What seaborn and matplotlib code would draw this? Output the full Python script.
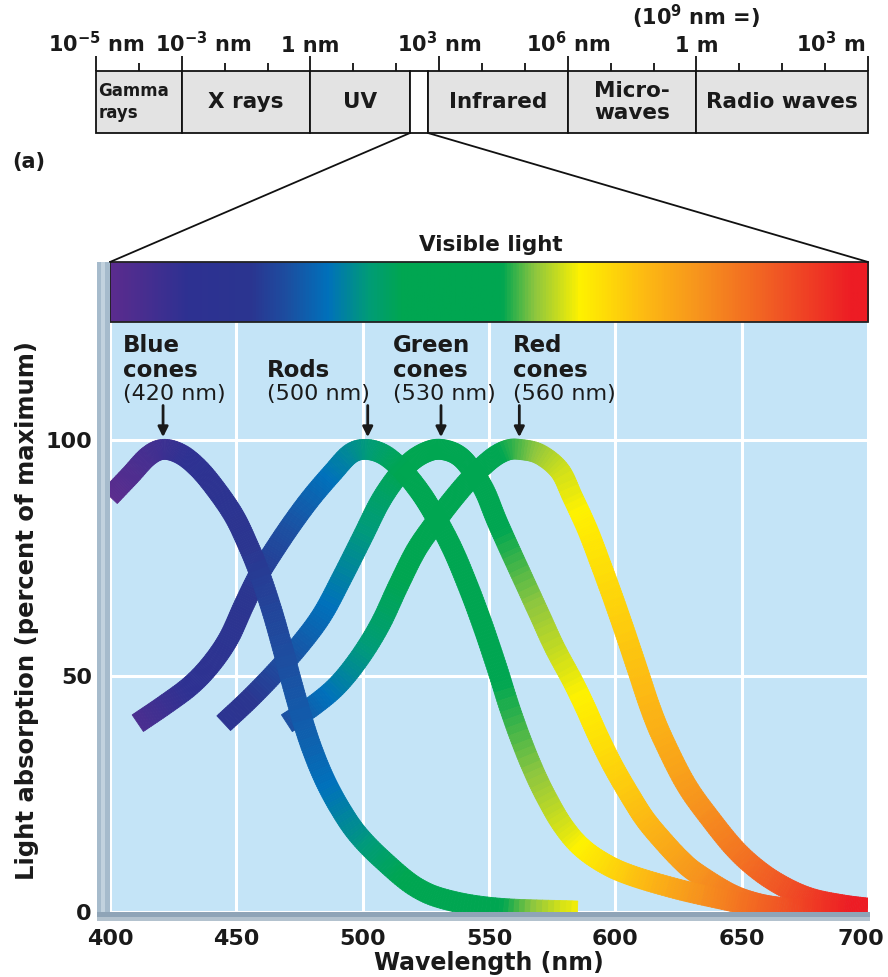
import numpy as np
import matplotlib
matplotlib.use('Agg')
import matplotlib.pyplot as plt
import matplotlib.transforms as mtransforms
import seaborn as sns
from matplotlib.collections import PolyCollection
from matplotlib.colors import LinearSegmentedColormap, Normalize
from matplotlib.patches import Rectangle
from matplotlib.lines import Line2D

# visible spectrum colour stops
spec_nm = [400, 430, 455, 470, 486, 502, 515, 555, 568, 586, 612, 633, 663, 694, 700]
spec_col = ['#5b2c8e', '#2e3192', '#2b3590', '#1c4fa1', '#0071bb', '#009c77', '#00a651',
            '#00a651', '#8dc63f', '#fff200', '#fdb913', '#f7941d', '#f15a24', '#ed1c24', '#ed1c24']

# absorption curves (wavelength nm, percent of maximum)
blue_nm = [400, 408, 415, 421, 428, 435, 442, 449, 454, 459, 464, 468, 472, 476, 480, 485, 491, 498, 508, 521, 534, 554, 585]
blue_val = [88, 92.5, 96.5, 98, 97, 94, 89.5, 84, 78.5, 72, 64, 56.5, 48.5, 41, 34.5, 28, 22, 16.5, 11, 5.3, 2.5, 0.8, 0.2]

rods_nm = [411, 422, 432, 440, 447, 453, 459, 466, 473, 480, 488, 495, 501, 508, 515, 522, 528, 535, 541, 547,
           553, 558, 563, 568, 573, 579, 586, 595, 606, 625, 644, 657, 663]
rods_val = [40, 44, 48, 52.5, 58, 65, 71.5, 77.5, 83, 88, 93, 97, 98, 97, 94, 89.5, 84.5, 77.5, 70, 61.5,
            52, 43.5, 36, 29.5, 24, 18.5, 14, 10.5, 7.8, 4.8, 2.5, 1, 0.3]

green_nm = [445, 455, 465, 475, 484, 492, 500, 507, 514, 520, 526, 531, 537, 542, 548, 553, 558, 564, 570, 576,
            583, 588, 593, 599, 606, 612, 619, 626, 632, 645, 655, 665, 678, 690]
green_val = [40, 45, 50.5, 56.5, 63, 71, 79.5, 87, 92.5, 95.8, 97.6, 98, 97, 94.5, 89.5, 83, 77, 70, 63, 56,
             49, 43.5, 37.5, 31, 24.5, 19.5, 15, 11, 8.3, 4, 2, 1, 0.5, 0]

red_nm = [470, 480, 490, 499, 507, 514, 521, 528, 535, 543, 551, 557, 562, 570, 578, 583, 589, 594, 599, 604,
          609, 614, 619, 628, 638, 648, 658, 668, 678, 690, 700]
red_val = [40, 43.5, 48, 54, 61, 69, 76.5, 82, 87, 92, 96, 97.8, 98, 97, 93.5, 88, 81, 74, 66.7, 59,
           51, 43, 36.5, 27, 19.5, 13, 8.3, 5, 2.8, 1.5, 0.8]

# peak labels
arrow_nm = [421, 502, 531, 562]
name_lines = [['Blue', 'cones'], ['Rods'], ['Green', 'cones'], ['Red', 'cones']]
sub_labels = ['(420 nm)', '(500 nm)', '(530 nm)', '(560 nm)']
label_x = [405, 462, 512, 559.5]

x_ticks = [400, 450, 500, 550, 600, 650, 700]
y_ticks = [0, 50, 100]

# electromagnetic spectrum strip
em_ticks = list(range(19))
em_major = [0, 2, 5, 8, 11, 14, 18]
em_major_labels = [r'$\mathbf{10^{-5}}$ nm', r'$\mathbf{10^{-3}}$ nm', '1 nm', r'$\mathbf{10^{3}}$ nm',
                   r'$\mathbf{10^{6}}$ nm', '1 m', r'$\mathbf{10^{3}}$ m']
em_bounds = [0, 2, 5, 7.32, 7.74, 11, 14, 18]
em_names = ['Gamma\nrays', 'X rays', 'UV', None, 'Infrared', 'Micro-\nwaves', 'Radio waves']

sns.set_theme(style='darkgrid', rc={'axes.facecolor': '#c4e4f7', 'grid.color': 'white',
                                    'figure.facecolor': 'white'})
plt.rcParams['font.family'] = ['DejaVu Sans']
plt.rcParams['mathtext.fontset'] = 'dejavusans'

W, H = 888, 977
fig = plt.figure(figsize=(W / 100, H / 100), dpi=100)


def fx(px):
    return px / W


def fy(py):
    return 1 - py / H


TXT = '#1a1a1a'
cmap = LinearSegmentedColormap.from_list('vis', [((n - 400) / 300, c) for n, c in zip(spec_nm, spec_col)])
norm = Normalize(400, 700)

ax = fig.add_axes([fx(110), fy(912), fx(868) - fx(110), fy(262) - fy(912)])
ax.set_xlim(400, 700)
ax.set_ylim(0, 137.7)
ax.grid(True, color='white', lw=2.2)
ax.set_axisbelow(True)
for s in ax.spines.values():
    s.set_visible(False)

grad = np.linspace(400, 700, 900)[None, :]
ax.imshow(grad, extent=(400, 700, 125, 137.7), aspect='auto', cmap=cmap, norm=norm, zorder=3)
ax.add_patch(Rectangle((400, 125), 300, 12.7, fill=False, ec='#222222', lw=1.3, zorder=4, clip_on=False))
ax.set_xlim(400, 700)
ax.set_ylim(0, 137.7)


def ribbon(nm, val, width_px=20, sub=14):
    # smooth (Catmull-Rom) centre line in pixel space, then a filled strip coloured by wavelength
    P = ax.transData.transform(np.column_stack([nm, val]).astype(float))
    P = np.vstack([2 * P[0] - P[1], P, 2 * P[-1] - P[-2]])
    pts = []
    for i in range(1, len(P) - 2):
        p0, p1, p2, p3 = P[i - 1], P[i], P[i + 1], P[i + 2]
        for t in np.arange(sub) / sub:
            pts.append(0.5 * (2 * p1 + (p2 - p0) * t + (2 * p0 - 5 * p1 + 4 * p2 - p3) * t ** 2
                              + (3 * p1 - p0 - 3 * p2 + p3) * t ** 3))
    pts.append(P[-2])
    pts = np.array(pts)
    tan = np.gradient(pts, axis=0)
    tan /= np.linalg.norm(tan, axis=1)[:, None]
    nrm = np.column_stack([-tan[:, 1], tan[:, 0]]) * width_px / 2
    inv = ax.transData.inverted()
    L = inv.transform(pts + nrm)
    R = inv.transform(pts - nrm)
    C = inv.transform(pts)
    quads = [[L[i], L[i + 1], R[i + 1], R[i]] for i in range(len(pts) - 1)]
    cols = cmap(norm((C[:-1, 0] + C[1:, 0]) / 2))
    pc = PolyCollection(quads, facecolors=cols, edgecolors=cols, linewidths=0.6, zorder=2)
    ax.add_collection(pc)


for nm, val in [(red_nm, red_val), (green_nm, green_val), (rods_nm, rods_val), (blue_nm, blue_val)]:
    ribbon(nm, val)

for a in arrow_nm:
    ax.annotate('', xy=(a, 100.6), xytext=(a, 107.3),
                arrowprops=dict(arrowstyle='-|>', color=TXT, lw=2, mutation_scale=15,
                                shrinkA=0, shrinkB=0), zorder=5)

for names, sub, x in zip(name_lines, sub_labels, label_x):
    ys = [118.6, 113.3][-len(names):]
    for t, yy in zip(names, ys):
        ax.text(x, yy, t, fontsize=16.5, fontweight='bold', color=TXT, ha='left', va='baseline', zorder=5)
    ax.text(x, 108.5, sub, fontsize=16, color=TXT, ha='left', va='baseline', zorder=5)

ax.set_xticks(x_ticks)
ax.set_yticks(y_ticks)
ax.tick_params(length=0, labelsize=16, labelcolor=TXT)
ax.tick_params(axis='x', pad=12)
ax.tick_params(axis='y', pad=13)
for lbl in ax.get_xticklabels() + ax.get_yticklabels():
    lbl.set_fontweight('bold')
last = ax.get_xticklabels()[-1]
last.set_transform(last.get_transform() + mtransforms.ScaledTranslation(-7 / 100, 0, fig.dpi_scale_trans))

# 3D-style frame on the left and bottom
fig.patches.append(Rectangle((fx(97), fy(921)), 13 / W, (921 - 262) / H, transform=fig.transFigure,
                             fc='#a6bbcc', ec='none', zorder=1))
fig.patches.append(Rectangle((fx(101), fy(921)), 4 / W, (921 - 262) / H, transform=fig.transFigure,
                             fc='#c2d2de', ec='none', zorder=1))
fig.patches.append(Rectangle((fx(97), fy(921)), 773 / W, 9 / H, transform=fig.transFigure,
                             fc='#8fa4b7', ec='none', zorder=1))
fig.patches.append(Rectangle((fx(97), fy(921)), 773 / W, 4 / H, transform=fig.transFigure,
                             fc='#b3c2ce', ec='none', zorder=1))

fig.text(fx(489), fy(963), 'Wavelength (nm)', fontsize=17, fontweight='bold', color=TXT,
         ha='center', va='center')
fig.text(fx(27), fy(610), 'Light absorption (percent of maximum)', fontsize=17.5, fontweight='bold',
         color=TXT, ha='center', va='center', rotation=90)
fig.text(fx(491), fy(251), 'Visible light', fontsize=15.5, fontweight='bold', color=TXT,
         ha='center', va='baseline')
fig.text(fx(12), fy(168), '(a)', fontsize=15, fontweight='bold', color=TXT, va='baseline')

# zoom lines from the spectrum strip to the visible bar
fig.lines.append(Line2D([fx(410), fx(110)], [fy(133), fy(262)], transform=fig.transFigure, color='#111111', lw=1.3))
fig.lines.append(Line2D([fx(428), fx(868)], [fy(133), fy(262)], transform=fig.transFigure, color='#111111', lw=1.3))

# top electromagnetic spectrum strip
axem = fig.add_axes([fx(96), fy(133), 772 / W, (133 - 71) / H])
axem.set_facecolor('white')
axem.grid(False)
axem.set_xlim(0, 18)
axem.set_ylim(0, 1)
for s in axem.spines.values():
    s.set_visible(False)
for i, name in enumerate(em_names):
    b0, b1 = em_bounds[i], em_bounds[i + 1]
    fc = 'white' if name is None else '#e3e3e3'
    axem.add_patch(Rectangle((b0, 0), b1 - b0, 1, fc=fc, ec='#111111', lw=1.3, clip_on=False))
    if name is None:
        continue
    if name.startswith('Gamma'):
        axem.text(b0 + 0.05, 0.5, name, fontsize=12, fontweight='bold', color=TXT, ha='left',
                  va='center', linespacing=1.25)
    else:
        axem.text((b0 + b1) / 2, 0.5, name, fontsize=15.5, fontweight='bold', color=TXT, ha='center',
                  va='center', linespacing=1.1)
axem.set_xticks(em_major)
axem.set_xticks([t for t in em_ticks if t not in em_major], minor=True)
axem.set_xticklabels([])
axem.set_yticks([])
axem.tick_params(axis='x', which='both', top=True, bottom=False, labelbottom=False, direction='out',
                 color='#111111', width=1.3)
axem.tick_params(axis='x', which='major', length=10.5)
axem.tick_params(axis='x', which='minor', length=5.5)
for t, lab in zip(em_major, em_major_labels):
    ha, xx = 'center', t
    if t == 2:
        xx = t + 0.5
    if t == 18:
        ha, xx = 'right', 17.95
    axem.text(xx, 1.31, lab, fontsize=15, fontweight='bold', color=TXT, ha=ha, va='baseline')
axem.text(14, 1.74, r'($\mathbf{10^{9}}$ nm =)', fontsize=15, fontweight='bold', color=TXT,
          ha='center', va='baseline')

fig.savefig('out.png', dpi=100)
